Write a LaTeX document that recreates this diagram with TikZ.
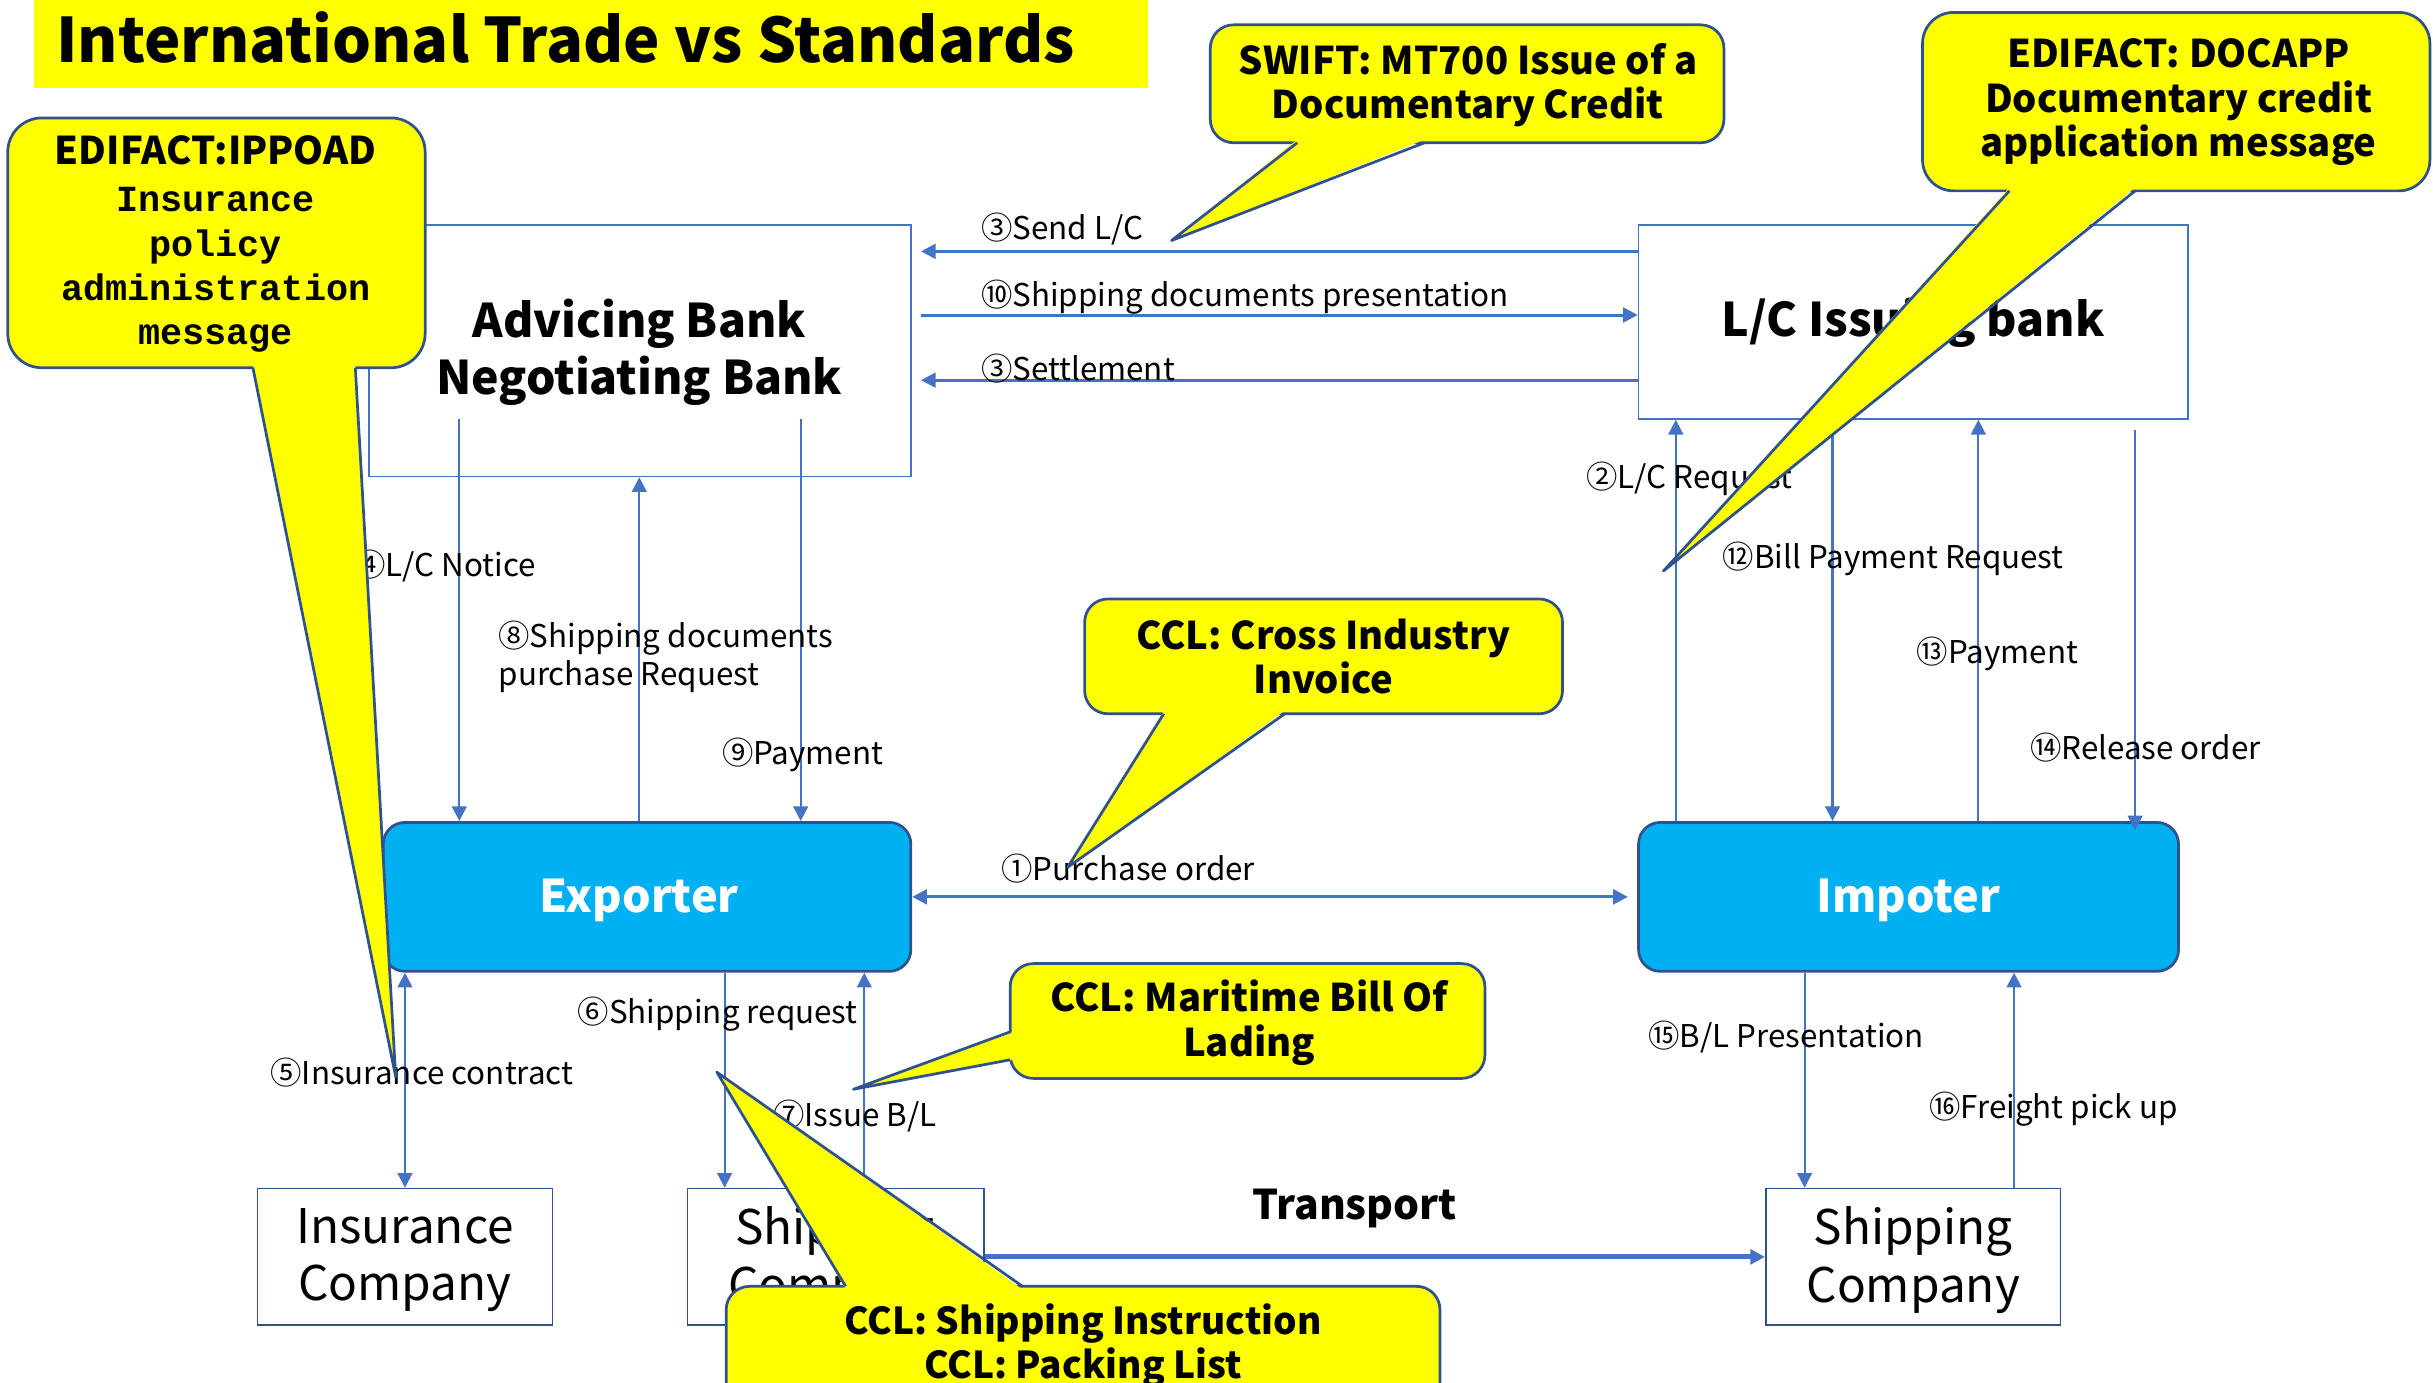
\documentclass[tikz,border=0pt]{standalone}
\usepackage{fontspec}
\setmainfont{Noto Sans CJK JP}
\setmonofont{Liberation Mono}
\usepackage{tikz}
\usetikzlibrary{arrows.meta, calc, fit}

\definecolor{lineBlue}{HTML}{4472C4}
\definecolor{edgeBlue}{HTML}{2F528F}
\definecolor{actorBlue}{HTML}{00B0F0}
\definecolor{noteYellow}{HTML}{FFFF00}

\begin{document}
\begin{tikzpicture}[x=0.2mm, y=-0.2mm,
    >={Triangle[length=1.9mm, width=1.9mm]},
    party/.style={draw=lineBlue, line width=0.6pt, fill=white, inner sep=0},
    company/.style={party, draw=edgeBlue},
    trader/.style={draw=edgeBlue, line width=1pt, fill=actorBlue, rounded corners=2.8mm, inner sep=0},
    bankText/.style={align=center, inner sep=0, font=\bfseries\fontsize{17}{21}\selectfont},
    companyText/.style={align=center, inner sep=0, font=\fontsize{17.5}{21}\selectfont},
    traderText/.style={inner sep=0, text=white, font=\bfseries\fontsize{16.5}{20}\selectfont},
    flow/.style={draw=lineBlue, line width=0.8pt},
    wide/.style={line width=1.1pt},
    msg/.style={font=\fontsize{11.5}{14}\selectfont, anchor=west, inner sep=0, align=left, yshift=-0.3mm},
    note/.style={draw=edgeBlue, line width=1pt, fill=noteYellow, rounded corners=3mm, inner sep=0},
    noteText/.style={inner sep=0, align=center, font=\bfseries\fontsize{14}{16.3}\selectfont},
    noteTail/.style={draw=edgeBlue, line width=1pt, line join=round},
]
    \useasboundingbox (0,0) rectangle (1568,891);
    % title
    \fill[noteYellow] (22,0) rectangle (740,57);
    \node[anchor=west, inner sep=0, font=\bfseries\fontsize{22.5}{27}\selectfont] (title) at (36,24)
        {International Trade vs Standards};
    % parties
    \node[party, fit={(238,145) (587,307)}] (advBank) {};
    \node[party, fit={(1056,145) (1410,270)}] (issBank) {};
    \node[trader, fit={(247,530) (587,626)}] (exporter) {};
    \node[trader, fit={(1056,530) (1404,626)}] (importer) {};
    \node[company, fit={(166,766) (356,854)}] (insCo) {};
    \node[company, fit={(443,766) (634,854)}] (shipCoA) {};
    \node[company, fit={(1138,766) (1328,854)}] (shipCoB) {};
    \node[bankText] (advText) at (412,227) {Advicing Bank\\Negotiating Bank};
    \node[bankText] (issText) at (1233,208) {L/C Issuing bank};
    \node[traderText] (exporterText) at (412,580) {Exporter};
    \node[traderText] (importerText) at (1230,580) {Impoter};
    \node[companyText] (insText) at (261,812) {Insurance\\Company};
    \node[companyText] (shipAText) at (538,812) {Shipping\\Company};
    \node[companyText] (shipBText) at (1233,812) {Shipping\\Company};
    % bank to bank
    \draw[flow, wide, ->, shorten >=1.2mm] (issBank.west |- 0,162) -- (advBank.east |- 0,162);
    \draw[flow, wide, ->, shorten <=1.2mm] (advBank.east |- 0,203) -- (issBank.west |- 0,203);
    \draw[flow, wide, ->, shorten >=1.2mm] (issBank.west |- 0,245) -- (advBank.east |- 0,245);
    % advising bank and exporter
    \coordinate (noticeTop) at (296,270);
    \coordinate (payTop) at (516,270);
    \draw[flow, ->] (noticeTop) -- (exporter.north -| noticeTop);
    \draw[flow, ->] (exporter.north -| 412,0) -- (advBank.south -| 412,0);
    \draw[flow, ->] (payTop) -- (exporter.north -| payTop);
    % issuing bank and importer
    \coordinate (releaseTop) at (1376,277);
    \draw[flow, ->] (importer.north -| 1080,0) -- (issBank.south -| 1080,0);
    \draw[flow, ->] (issBank.south -| 1181,0) -- (importer.north -| 1181,0);
    \draw[flow, ->] (importer.north -| 1275,0) -- (issBank.south -| 1275,0);
    \draw[flow, ->, shorten >=-1.2mm] (releaseTop) -- (importer.north -| releaseTop);
    % trade
    \draw[flow, wide, <->, shorten >=1.2mm] (exporter.east) -- (importer.west);
    \draw[flow, <->] (exporter.south -| 261,0) -- (insCo.north -| 261,0);
    \draw[flow, ->] (exporter.south -| 467,0) -- (shipCoA.north -| 467,0);
    \draw[flow, ->] (shipCoA.north -| 557,0) -- (exporter.south -| 557,0);
    \draw[flow, line width=1.8pt, ->] (shipCoA.east |- 0,810) -- (shipCoB.west |- 0,810);
    \draw[flow, ->] (importer.south -| 1163,0) -- (shipCoB.north -| 1163,0);
    \draw[flow, ->] (shipCoB.north -| 1298,0) -- (importer.south -| 1298,0);
    % flow labels
    \node[msg] (sendLC) at (632,146) {③Send L/C};
    \node[msg] (presentDocs) at (632,190) {⑩Shipping documents presentation};
    \node[msg] (settle) at (632,236) {③Settlement};
    \node[msg] (notice) at (228,363) {④L/C Notice};
    \node[msg] (purchaseReq) at (321,422) {⑧Shipping documents\\purchase Request};
    \node[msg] (payExp) at (465,485) {⑨Payment};
    \node[msg] (order) at (645,558) {①Purchase order};
    \node[msg] (lcReq) at (1022,307) {②L/C Request};
    \node[msg] (billReq) at (1110,359) {⑫Bill Payment Request};
    \node[msg] (payImp) at (1235,420) {⑬Payment};
    \node[msg] (release) at (1308,480) {⑭Release order};
    \node[msg] (insure) at (174,690) {⑤Insurance contract};
    \node[msg] (shipReq) at (372,652) {⑥Shipping request};
    \node[msg] (issueBL) at (498,718) {⑦Issue B/L};
    \node[msg] (presentBL) at (1062,667) {⑮B/L Presentation};
    \node[msg] (pickUp) at (1243,713) {⑯Freight pick up};
    \node[font=\bfseries\fontsize{15}{18}\selectfont] (transport) at (873,779) {Transport};
    % callout: insurance policy
    \coordinate (ippoadTip) at (255,694);
    \node[note, rounded corners=4.4mm, fit={(5,76) (274,237)}] (ippoadNote) {};
    \fill[noteYellow] (163,235) -- (ippoadTip) -- (229,235) -- cycle;
    \draw[noteTail] (163,237) -- (ippoadTip) -- (229,237);
    \node[noteText] (ippoadHead) at (139,97) {EDIFACT:IPPOAD};
    \node[font=\ttfamily\bfseries\fontsize{13.5}{16.3}\selectfont, align=center, inner sep=0] (ippoadText) at (139,174)
        {Insurance\\policy\\administration\\message};
    % callout: documentary credit
    \coordinate (swiftTip) at (755,155);
    \node[note, fit={(780,16) (1111,92)}] (swiftNote) {};
    \fill[noteYellow] (836,90) -- (swiftTip) -- (918,90) -- cycle;
    \draw[noteTail] (836,92) -- (swiftTip) -- (918,92);
    \node[noteText] (swiftText) at (946,55) {SWIFT: MT700 Issue of a\\Documentary Credit};
    % callout: credit application
    \coordinate (docappTip) at (1072,368);
    \node[note, rounded corners=4mm, fit={(1239,8) (1566,123)}] (docappNote) {};
    \fill[noteYellow] (1295,121) -- (docappTip) -- (1376,121) -- cycle;
    \draw[noteTail] (1295,123) -- (docappTip) -- (1376,123);
    \node[noteText] (docappText) at (1404,66) {EDIFACT: DOCAPP\\Documentary credit\\application message};
    % callout: invoice
    \coordinate (ciiTip) at (688,559);
    \node[note, fit={(699,386) (1007,460)}] (ciiNote) {};
    \fill[noteYellow] (750,458) -- (ciiTip) -- (828,458) -- cycle;
    \draw[noteTail] (750,460) -- (ciiTip) -- (828,460);
    \node[noteText] (ciiText) at (853,423) {CCL: Cross Industry\\Invoice};
    % callout: bill of lading
    \coordinate (bolTip) at (550,702);
    \node[note, fit={(651,621) (957,695)}] (bolNote) {};
    \fill[noteYellow] (653,665) -- (bolTip) -- (653,683) -- cycle;
    \draw[noteTail] (651,665) -- (bolTip) -- (651,683);
    \node[noteText] (bolText) at (805,659) {CCL: Maritime Bill Of\\Lading};
    % callout: shipping instruction
    \coordinate (siTip) at (462,691);
    \node[note, fit={(468,829) (928,960)}] (siNote) {};
    \fill[noteYellow] (545,831) -- (siTip) -- (659,831) -- cycle;
    \draw[noteTail] (545,829) -- (siTip) -- (659,829);
    \node[noteText, font=\bfseries\fontsize{13.6}{16.3}\selectfont] (siText) at (698,867)
        {CCL: Shipping Instruction\\CCL: Packing List};
\end{tikzpicture}
\end{document}
